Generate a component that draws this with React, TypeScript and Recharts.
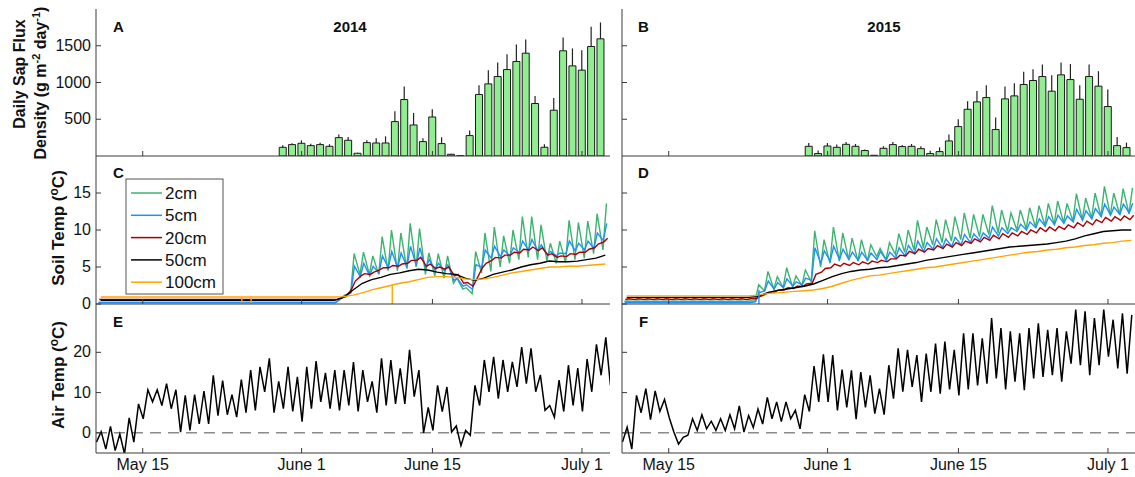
import React from 'react'
import { ComposedChart, Bar, ErrorBar, Line, XAxis, YAxis, ReferenceLine } from 'recharts'

const FONT = 'Arial, "Liberation Sans", Helvetica, sans-serif'
const AXIS_DARK = '#3a3a3a'
const AXIS_LIGHT = '#8a8a8a'
const TICK_LEN = 5
const GAP = 5

// x is day of year: May 10 (130) .. July 4 (185)
const FIRST_DAY = 130
const LAST_DAY = 185
const dateTicks = [135, 152, 166, 182]
const dateLabels = ['May 15', 'June 1', 'June 15', 'July 1']

const sapTicks = [500, 1000, 1500]
const soilTicks = [0, 5, 10, 15]
const airTicks = [0, 10, 20]

// daily sap flux from May 30 (day 150), bar height and top of error bar
const SAP_FIRST = 150
const sap2014 = [118, 155, 173, 141, 155, 132, 250, 214, 37, 182, 177, 177, 468, 768, 422, 196, 531, 169, 23, 5,
  278, 837, 981, 1081, 1176, 1286, 1399, 714, 119, 623, 1431, 1226, 1168, 1490, 1594]
const sapTop2014 = [145, 175, 213, 165, 180, 160, 291, 259, 45, 215, 240, 268, 608, 946, 586, 241, 636, 254, 30, 10,
  346, 963, 1167, 1272, 1386, 1518, 1586, 817, 160, 790, 1613, 1463, 1440, 1758, 1817]
const sap2015 = [132, 33, 136, 118, 159, 132, 74, 10, 105, 155, 128, 132, 100, 33, 60, 205, 400, 636, 736, 795,
  360, 777, 818, 973, 1027, 1081, 882, 1104, 1040, 772, 1081, 950, 673, 141, 114]
const sapTop2015 = [177, 74, 177, 155, 190, 163, 90, 15, 132, 190, 150, 163, 132, 73, 118, 291, 500, 745, 886, 963,
  523, 945, 990, 1145, 1181, 1245, 1099, 1272, 1250, 963, 1245, 1154, 904, 259, 182]

// soil temperature, per day from day 130: night low and afternoon high
const soil2cmLo2014 = [0.2, 0.2, 0.2, 0.2, 0.2, 0.2, 0.2, 0.2, 0.2, 0.2, 0.2, 0.2, 0.2,
  0.2, 0.2, 0.2, 0.2, 0.2, 0.2, 0.2, 0.2, 0.2, 0.2, 0.2, 0.2, 0.2,
  0.8, 1.5, 4.0, 4.0, 4.0, 4.5, 4.5, 4.8, 5.0, 4.0, 3.8, 3.5, 2.8, 2.0, 1.4,
  4.2, 4.4, 5.0, 5.5, 6.0, 6.3, 6.0, 5.8, 5.5, 5.6, 6.0, 6.2, 6.8, 7.3]
const soil2cmHi2014 = [0.2, 0.2, 0.2, 0.2, 0.2, 0.2, 0.2, 0.2, 0.2, 0.2, 0.2, 0.2, 0.2,
  0.2, 0.2, 0.2, 0.2, 0.2, 0.2, 0.2, 0.2, 0.2, 0.2, 0.2, 0.2, 0.2,
  1.2, 6.8, 7.0, 6.5, 9.1, 10.0, 9.6, 10.9, 10.2, 6.9, 6.8, 6.5, 3.5, 2.2, 7.1,
  9.6, 10.4, 9.2, 10.0, 11.8, 11.8, 10.7, 8.2, 8.5, 11.3, 11.0, 11.2, 12.2, 13.6]
const soil5cmLo2014 = [0.2, 0.2, 0.2, 0.2, 0.2, 0.2, 0.2, 0.2, 0.2, 0.2, 0.2, 0.2, 0.2,
  0.2, 0.2, 0.2, 0.2, 0.2, 0.2, 0.2, 0.2, 0.2, 0.2, 0.2, 0.2, 0.2,
  0.8, 1.5, 3.7, 3.8, 4.2, 4.9, 4.9, 5.0, 5.2, 4.8, 4.6, 4.5, 3.2, 2.4, 2.0,
  5.0, 6.2, 6.4, 6.5, 7.0, 7.3, 7.2, 6.7, 6.5, 6.8, 7.2, 7.3, 7.5, 8.6]
const soil5cmHi2014 = [0.2, 0.2, 0.2, 0.2, 0.2, 0.2, 0.2, 0.2, 0.2, 0.2, 0.2, 0.2, 0.2,
  0.2, 0.2, 0.2, 0.2, 0.2, 0.2, 0.2, 0.2, 0.2, 0.2, 0.2, 0.2, 0.2,
  1.1, 5.1, 5.5, 5.1, 6.5, 7.1, 6.9, 7.8, 7.6, 6.0, 5.5, 5.3, 3.5, 2.6, 5.3,
  7.3, 7.8, 7.3, 7.6, 8.5, 8.7, 8.0, 7.1, 6.9, 8.5, 8.2, 8.5, 9.6, 10.9]
const soil20cmLo2014 = [0.6, 0.6, 0.6, 0.6, 0.6, 0.6, 0.6, 0.6, 0.6, 0.6, 0.6, 0.6, 0.6,
  0.6, 0.6, 0.6, 0.6, 0.6, 0.6, 0.6, 0.6, 0.6, 0.6, 0.6, 0.6, 0.6,
  0.9, 2.0, 3.8, 4.0, 4.6, 4.9, 5.1, 5.5, 5.9, 5.1, 4.8, 4.7, 3.8, 2.8, 2.4,
  4.9, 5.9, 6.2, 6.6, 6.9, 7.3, 7.2, 6.6, 6.3, 6.4, 6.7, 7.0, 7.6, 8.4]
const soil20cmHi2014 = [0.6, 0.6, 0.6, 0.6, 0.6, 0.6, 0.6, 0.6, 0.6, 0.6, 0.6, 0.6, 0.6,
  0.6, 0.6, 0.6, 0.6, 0.6, 0.6, 0.6, 0.6, 0.6, 0.6, 0.6, 0.6, 0.6,
  1.0, 3.1, 4.1, 4.3, 4.9, 5.2, 5.4, 5.9, 6.3, 5.4, 5.0, 5.0, 4.0, 2.9, 3.4,
  5.5, 6.3, 6.6, 7.0, 7.4, 7.7, 7.6, 6.8, 6.5, 6.8, 7.0, 7.4, 8.1, 8.9]
const soil50cm2014 = [0.5, 0.5, 0.5, 0.5, 0.5, 0.5, 0.5, 0.5, 0.5, 0.5, 0.5, 0.5, 0.5,
  0.5, 0.5, 0.5, 0.5, 0.5, 0.5, 0.5, 0.5, 0.5, 0.5, 0.5, 0.5, 0.5,
  0.9, 1.9, 2.8, 3.3, 3.6, 4.0, 4.2, 4.5, 4.7, 4.6, 4.3, 4.1, 4.0, 3.5, 3.2,
  3.5, 4.0, 4.3, 4.6, 5.0, 5.3, 5.5, 5.8, 5.7, 5.7, 5.8, 6.0, 6.2, 6.6]
const soil100cm2014 = [0.95, 0.95, 0.95, 0.95, 0.95, 0.95, 0.95, 0.95, 0.95, 0.95, 0.95, 0.95, 0.95,
  0.95, 0.95, 0.95, 0.95, 0.95, 0.95, 0.95, 0.95, 0.95, 0.95, 0.95, 0.95, 0.95,
  1.0, 1.2, 1.5, 1.9, 2.2, 2.5, 2.8, 3.0, 3.3, 3.6, 3.7, 3.7, 3.6, 3.4, 3.3,
  3.4, 3.6, 3.9, 4.2, 4.4, 4.6, 4.8, 5.0, 5.0, 5.1, 5.1, 5.2, 5.3, 5.4]

const soil2cmLo2015 = [0.35, 0.35, 0.35, 0.35, 0.35, 0.35, 0.35, 0.35, 0.35, 0.35, 0.35, 0.35, 0.35, 0.35,
  0.4, 1.8, 2.0, 2.2, 2.3, 2.5, 3.0, 5.0, 5.5, 5.8, 6.0, 5.8, 5.8, 6.4, 6.0, 6.7,
  7.0, 7.3, 7.6, 8.0, 8.3, 8.5, 8.7, 8.9, 9.1, 9.4, 9.6, 9.8, 10.0, 10.2, 10.4,
  10.6, 10.8, 11.0, 11.2, 11.4, 11.6, 11.8, 12.0, 12.1, 12.2]
const soil2cmHi2015 = [0.4, 0.4, 0.4, 0.4, 0.4, 0.4, 0.4, 0.4, 0.4, 0.4, 0.4, 0.4, 0.4, 0.4,
  2.6, 4.4, 3.7, 4.9, 3.8, 4.6, 9.9, 8.7, 10.4, 9.6, 8.9, 8.7, 8.0, 7.5, 8.3, 9.5,
  10.0, 11.3, 10.4, 11.4, 11.4, 11.8, 12.3, 12.1, 12.1, 13.3, 12.7, 12.3, 12.7, 13.0, 13.3,
  13.6, 13.9, 13.6, 14.9, 14.3, 15.0, 15.9, 15.0, 15.6, 15.7]
const soil5cmLo2015 = [0.2, 0.2, 0.2, 0.2, 0.2, 0.2, 0.2, 0.2, 0.2, 0.2, 0.2, 0.2, 0.2, 0.2,
  0.3, 1.8, 2.0, 2.2, 2.4, 2.6, 3.2, 5.5, 5.8, 6.0, 6.0, 5.9, 5.9, 6.0, 5.9, 6.2,
  6.5, 6.8, 7.1, 7.4, 7.6, 7.8, 8.0, 8.3, 8.6, 8.9, 9.2, 9.5, 9.8, 10.0, 10.3,
  10.5, 10.7, 10.9, 11.1, 11.3, 11.5, 11.8, 12.0, 12.1, 12.3]
const soil5cmHi2015 = [0.2, 0.2, 0.2, 0.2, 0.2, 0.2, 0.2, 0.2, 0.2, 0.2, 0.2, 0.2, 0.2, 0.2,
  1.5, 3.1, 2.9, 3.4, 3.0, 3.5, 7.6, 7.2, 7.8, 7.4, 7.0, 7.0, 6.9, 7.1, 7.0, 7.6,
  7.9, 8.5, 8.3, 8.8, 8.8, 9.0, 9.4, 9.5, 9.6, 10.4, 10.3, 10.3, 10.8, 11.1, 11.5,
  11.8, 12.0, 11.9, 12.8, 12.6, 12.9, 13.5, 13.1, 13.5, 13.6]
const soil20cmLo2015 = [0.6, 0.6, 0.6, 0.6, 0.6, 0.6, 0.6, 0.6, 0.6, 0.6, 0.6, 0.6, 0.6, 0.6,
  0.7, 1.3, 1.6, 1.9, 2.1, 2.4, 2.8, 4.3, 4.9, 5.1, 5.2, 5.3, 5.4, 5.6, 5.7, 6.1,
  6.5, 6.8, 7.0, 7.3, 7.5, 7.7, 7.9, 8.2, 8.4, 8.6, 8.8, 9.0, 9.2, 9.4, 9.6,
  9.8, 9.9, 10.1, 10.3, 10.5, 10.7, 11.0, 11.2, 11.3, 11.4]
const soil20cmHi2015 = [0.7, 0.7, 0.7, 0.7, 0.7, 0.7, 0.7, 0.7, 0.7, 0.7, 0.7, 0.7, 0.7, 0.7,
  1.0, 1.6, 1.9, 2.2, 2.4, 2.7, 4.0, 4.8, 5.4, 5.5, 5.6, 5.7, 5.8, 5.9, 6.1, 6.6,
  7.1, 7.4, 7.5, 7.9, 8.1, 8.3, 8.5, 8.8, 9.0, 9.3, 9.5, 9.6, 9.8, 10.0, 10.3,
  10.4, 10.5, 10.7, 11.0, 11.2, 11.4, 11.7, 11.8, 11.9, 12.0]
const soil50cm2015 = [0.9, 0.9, 0.9, 0.9, 0.9, 0.9, 0.9, 0.9, 0.9, 0.9, 0.9, 0.9, 0.9, 0.9,
  1.0, 1.5, 1.8, 2.0, 2.2, 2.4, 2.7, 3.2, 3.7, 4.1, 4.4, 4.6, 4.7, 4.9, 5.0, 5.2,
  5.4, 5.6, 5.9, 6.1, 6.3, 6.5, 6.7, 6.9, 7.1, 7.3, 7.5, 7.7, 7.8, 7.9, 8.0,
  8.1, 8.3, 8.5, 8.8, 9.2, 9.5, 9.8, 9.9, 10.0, 10.0]
const soil100cm2015 = [1.1, 1.1, 1.1, 1.1, 1.1, 1.1, 1.1, 1.1, 1.1, 1.1, 1.1, 1.1, 1.1, 1.1,
  1.2, 1.4, 1.5, 1.6, 1.7, 1.8, 1.9, 2.1, 2.4, 2.8, 3.2, 3.5, 3.8, 3.9, 4.1, 4.3,
  4.5, 4.7, 4.9, 5.0, 5.2, 5.4, 5.6, 5.8, 6.0, 6.2, 6.4, 6.6, 6.8, 7.0, 7.1,
  7.3, 7.4, 7.6, 7.7, 7.9, 8.0, 8.2, 8.3, 8.5, 8.6]

// single-reading sensor dropouts: [day, reading before, reading at dropout]
const dropout100cm2014 = [[145.6, 0.95, 0], [146.6, 0.95, 0], [161.7, 2.6, 0]]
const dropout5cm2015 = [[144.65, 1.9, 0]]

// air temperature per day from day 130: overnight low and afternoon high
const airLo2014 = [-2.3, -4.0, -4.4, -5.2, -2.3, 3.5, 7.7, 6.8, 6.0, 0.2, 0.6, 2.2, 2.2, 4.3, 4.5, 3.9, 5.0, 5.6, 10.2,
  5.0, 6.0, 5.3, 2.8, 6.0, 7.7, 6.0, 5.6, 6.8, 5.3, 7.7, 5.0, 6.8, 7.2, 7.2, 9.0, 0.0, 0.6, 5.3, 0.2, -3.2, -0.6,
  6.8, 10.2, 8.5, 10.2, 11.4, 12.2, 10.2, 5.6, 3.9, 5.3, 6.8, 5.3, 10.2, 14.3, 11.8]
const airHi2014 = [0.3, 1.6, -0.3, 3.7, 7.2, 10.7, 10.7, 12.2, 10.7, 9.3, 9.5, 10.4, 14.3, 13.0, 9.5, 13.2, 15.6, 16.4,
  18.5, 12.8, 16.4, 13.9, 16.4, 17.8, 14.9, 15.6, 15.6, 17.6, 15.6, 12.8, 18.5, 18.1, 16.0, 20.6, 15.6, 6.3, 11.8,
  11.4, 1.7, 0.6, 11.8, 18.1, 18.9, 18.1, 17.6, 21.3, 21.0, 14.4, 6.8, 13.1, 16.8, 16.1, 18.3, 22.0, 23.7]
const airLo2015 = [-2.3, -4.0, 5.0, 3.3, 5.3, 3.8, -2.8, -0.6, 0.6, 1.0, 0.6, 0.6, 1.0, 0.2, 1.3, 2.2, 3.5, 2.8, 3.5,
  1.0, 5.3, 7.7, 7.7, 5.6, 6.3, 3.4, 6.3, 4.8, 4.5, 8.5, 10.2, 11.4, 7.7, 10.2, 9.7, 10.8, 9.3, 10.8, 11.8, 12.2,
  13.5, 10.8, 12.7, 10.6, 13.5, 13.9, 14.3, 12.7, 17.2, 16.8, 14.3, 16.8, 18.9, 16.0, 14.7]
const airHi2015 = [1.4, 9.3, 11.0, 10.4, 8.3, 0.2, -1.1, 3.5, 4.5, 2.9, 3.5, 4.5, 6.7, 4.3, 5.9, 8.8, 7.7, 7.7, 5.6,
  9.5, 16.6, 19.5, 19.3, 15.7, 15.5, 15.1, 14.3, 11.0, 16.8, 21.0, 20.6, 19.3, 19.7, 22.2, 22.7, 20.6, 24.7, 24.7,
  23.5, 28.5, 26.0, 25.2, 24.7, 26.0, 27.2, 25.6, 26.0, 25.2, 30.6, 30.2, 28.5, 30.6, 28.1, 29.7, 29.3]

const depthNames = ['2cm', '5cm', '20cm', '50cm', '100cm']
const depthColors = ['#3cb371', '#1e90ff', '#a80000', '#000000', '#ffa500']

type Pt = { x: number; y: number }

function lowHigh(lo: number[], hi: number[], tLo: number, tHi: number): Pt[] {
  const pts: Pt[] = []
  lo.forEach((v, i) => {
    pts.push({ x: FIRST_DAY + i + tLo, y: v })
    if (hi[i] !== undefined) pts.push({ x: FIRST_DAY + i + tHi, y: hi[i] })
  })
  return pts
}

function daily(vals: number[]): Pt[] {
  return vals.map((v, i) => ({ x: FIRST_DAY + i + 0.5, y: v }))
}

function sapRows(vals: number[], tops: number[]) {
  return vals.map((v, i) => ({ x: SAP_FIRST + i, v, err: [0, tops[i] - v] }))
}

const bottomTick = (withLabel: boolean) => (p: any) => {
  const ay = p.y - GAP
  return (
    <g>
      <line x1={p.x} x2={p.x} y1={ay} y2={ay - TICK_LEN} stroke={AXIS_DARK} />
      {withLabel && (
        <text x={p.x} y={ay + 17} textAnchor="middle" fontFamily={FONT} fontSize={16} fill="#111">
          {dateLabels[dateTicks.indexOf(p.payload.value)]}
        </text>
      )}
    </g>
  )
}

const topTick = (p: any) => {
  const ay = p.y + GAP
  return <line x1={p.x} x2={p.x} y1={ay} y2={ay + TICK_LEN} stroke={AXIS_LIGHT} />
}

const leftTick = (withLabel: boolean) => (p: any) => {
  const ax = p.x + GAP
  return (
    <g>
      <line x1={ax} x2={ax + TICK_LEN} y1={p.y} y2={p.y} stroke={AXIS_DARK} />
      {withLabel && (
        <text x={ax - 5} y={p.y + 5} textAnchor="end" fontFamily={FONT} fontSize={16} fill="#111">
          {p.payload.value}
        </text>
      )}
    </g>
  )
}

const rightTick = (p: any) => {
  const ax = p.x - GAP
  return <line x1={ax} x2={ax - TICK_LEN} y1={p.y} y2={p.y} stroke={AXIS_LIGHT} />
}

const COL_X = [96, 622]
const PLOT_W = 514
const ROW_Y = [9, 156, 304]
const ROW_H = [147, 148, 149]
const LEFT_W = 50

interface PanelProps {
  col: number
  row: number
  yDomain: [number, number]
  yTicks: number[]
  data?: any[]
  children: React.ReactNode
}

function Panel({ col, row, yDomain, yTicks, data, children }: PanelProps) {
  const xLabels = row === 2
  const yLabels = col === 0
  const bottomH = xLabels ? 26 : 12
  const h = ROW_H[row]
  return (
    <div style={{ position: 'absolute', left: COL_X[col] - LEFT_W, top: ROW_Y[row] - 6 }}>
      <ComposedChart width={LEFT_W + PLOT_W + 6} height={6 + h + bottomH} data={data}
        margin={{ top: 6, right: 6, bottom: 0, left: 0 }}>
        <XAxis xAxisId="b" dataKey="x" type="number" domain={[FIRST_DAY, LAST_DAY]} ticks={dateTicks}
          interval={0} height={bottomH} tickSize={0} tickMargin={GAP} tickLine={false}
          axisLine={{ stroke: AXIS_DARK }} tick={bottomTick(xLabels)} allowDataOverflow />
        <XAxis xAxisId="t" orientation="top" dataKey="x" type="number" domain={[FIRST_DAY, LAST_DAY]}
          ticks={dateTicks} interval={0} height={0} tickSize={0} tickMargin={GAP} tickLine={false}
          axisLine={{ stroke: AXIS_LIGHT }} tick={topTick} allowDataOverflow />
        <YAxis yAxisId="l" type="number" domain={yDomain} ticks={yTicks} interval={0} width={LEFT_W}
          tickSize={0} tickMargin={GAP} tickLine={false} axisLine={{ stroke: AXIS_DARK }}
          tick={leftTick(yLabels)} allowDataOverflow />
        <YAxis yAxisId="r" orientation="right" type="number" domain={yDomain} ticks={yTicks} interval={0}
          width={0} tickSize={0} tickMargin={GAP} tickLine={false} axisLine={{ stroke: AXIS_LIGHT }}
          tick={rightTick} allowDataOverflow />
        {children}
      </ComposedChart>
    </div>
  )
}

function sapSeries() {
  return (
    <Bar xAxisId="b" yAxisId="l" dataKey="v" barSize={7} fill="#90ee90" stroke="#1a1a1a" strokeWidth={1}
      isAnimationActive={false}>
      <ErrorBar dataKey="err" width={0} stroke="#222" strokeWidth={1.2} direction="y" />
    </Bar>
  )
}

function line(key: string, pts: Pt[], color: string, width = 1.4) {
  return (
    <Line key={key} data={pts} dataKey="y" xAxisId="b" yAxisId="l" type="linear" dot={false} stroke={color}
      strokeWidth={width} isAnimationActive={false} activeDot={false} />
  )
}

function soilSeries(tag: string, lo2: number[], hi2: number[], lo5: number[], hi5: number[],
  lo20: number[], hi20: number[], d50: number[], d100: number[], drops: number[][], dropColor: string) {
  return [
    line(tag + '2', lowHigh(lo2, hi2, 0.25, 0.62), depthColors[0]),
    line(tag + '5', lowHigh(lo5, hi5, 0.28, 0.65), depthColors[1]),
    line(tag + '20', lowHigh(lo20, hi20, 0.35, 0.75), depthColors[2]),
    line(tag + '50', daily(d50), depthColors[3]),
    line(tag + '100', daily(d100), depthColors[4]),
    ...drops.map((d, i) => line(tag + 'drop' + i, [{ x: d[0], y: d[1] }, { x: d[0], y: d[2] }], dropColor)),
  ]
}

function airSeries(tag: string, lo: number[], hi: number[]) {
  return [
    <ReferenceLine key={tag + 'zero'} y={0} xAxisId="b" yAxisId="l" stroke="#8a8a8a" strokeWidth={1.5}
      strokeDasharray="11 7" />,
    line(tag + 'air', lowHigh(lo, hi, 0.05, 0.55), '#000', 1.5),
  ]
}

function Overlay() {
  const bold = { fontFamily: FONT, fontWeight: 700, fill: '#111' } as const
  const legendX = 126
  const legendY = 179
  return (
    <svg width={1135} height={477} style={{ position: 'absolute', left: 0, top: 0, pointerEvents: 'none' }}>
      <text x={113} y={32} fontSize={15} {...bold}>A</text>
      <text x={350} y={32} fontSize={15} textAnchor="middle" {...bold}>2014</text>
      <text x={638} y={32} fontSize={15} {...bold}>B</text>
      <text x={884} y={32} fontSize={15} textAnchor="middle" {...bold}>2015</text>
      <text x={113} y={178} fontSize={15} {...bold}>C</text>
      <text x={638} y={178} fontSize={15} {...bold}>D</text>
      <text x={113} y={327} fontSize={15} {...bold}>E</text>
      <text x={639} y={327} fontSize={15} {...bold}>F</text>

      <text x={25} y={74} fontSize={16} textAnchor="middle" transform="rotate(-90 25 74)" {...bold}>
        Daily Sap Flux
      </text>
      <text x={46} y={83} fontSize={16} textAnchor="middle" transform="rotate(-90 46 83)" {...bold}>
        Density (g m<tspan dy={-6} fontSize={11}>-2</tspan><tspan dy={6}> day</tspan>
        <tspan dy={-6} fontSize={11}>-1</tspan><tspan dy={6}>)</tspan>
      </text>
      <text x={64} y={228} fontSize={17} textAnchor="middle" transform="rotate(-90 64 228)" {...bold}>
        Soil Temp (<tspan dy={-6} fontSize={12}>o</tspan><tspan dy={6}>C)</tspan>
      </text>
      <text x={64} y={375} fontSize={17} textAnchor="middle" transform="rotate(-90 64 375)" {...bold}>
        Air Temp (<tspan dy={-6} fontSize={12}>o</tspan><tspan dy={6}>C)</tspan>
      </text>

      <rect x={legendX} y={legendY} width={97} height={115} fill="#fff" stroke="#555" strokeWidth={1} />
      {depthNames.map((name, i) => {
        const cy = legendY + 14 + i * 22.3
        return (
          <g key={name}>
            <line x1={legendX + 5} x2={legendX + 36} y1={cy} y2={cy} stroke={depthColors[i]} strokeWidth={1.5} />
            <text x={legendX + 39} y={cy + 6} fontSize={17} fontFamily={FONT} fill="#111">{name}</text>
          </g>
        )
      })}
    </svg>
  )
}

export default function App() {
  const rows2014 = sapRows(sap2014, sapTop2014)
  const rows2015 = sapRows(sap2015, sapTop2015)
  return (
    <div style={{ position: 'absolute', left: 0, top: 0, width: 1135, height: 477, overflow: 'hidden',
      background: '#fff', fontFamily: FONT }}>
      <Panel col={0} row={0} yDomain={[0, 2000]} yTicks={sapTicks} data={rows2014}>
        {sapSeries()}
      </Panel>
      <Panel col={1} row={0} yDomain={[0, 2000]} yTicks={sapTicks} data={rows2015}>
        {sapSeries()}
      </Panel>
      <Panel col={0} row={1} yDomain={[0, 20]} yTicks={soilTicks}>
        {soilSeries('c', soil2cmLo2014, soil2cmHi2014, soil5cmLo2014, soil5cmHi2014, soil20cmLo2014,
          soil20cmHi2014, soil50cm2014, soil100cm2014, dropout100cm2014, depthColors[4])}
      </Panel>
      <Panel col={1} row={1} yDomain={[0, 20]} yTicks={soilTicks}>
        {soilSeries('d', soil2cmLo2015, soil2cmHi2015, soil5cmLo2015, soil5cmHi2015, soil20cmLo2015,
          soil20cmHi2015, soil50cm2015, soil100cm2015, dropout5cm2015, depthColors[1])}
      </Panel>
      <Panel col={0} row={2} yDomain={[-5, 32]} yTicks={airTicks}>
        {airSeries('e', airLo2014, airHi2014)}
      </Panel>
      <Panel col={1} row={2} yDomain={[-5, 32]} yTicks={airTicks}>
        {airSeries('f', airLo2015, airHi2015)}
      </Panel>
      <Overlay />
    </div>
  )
}
